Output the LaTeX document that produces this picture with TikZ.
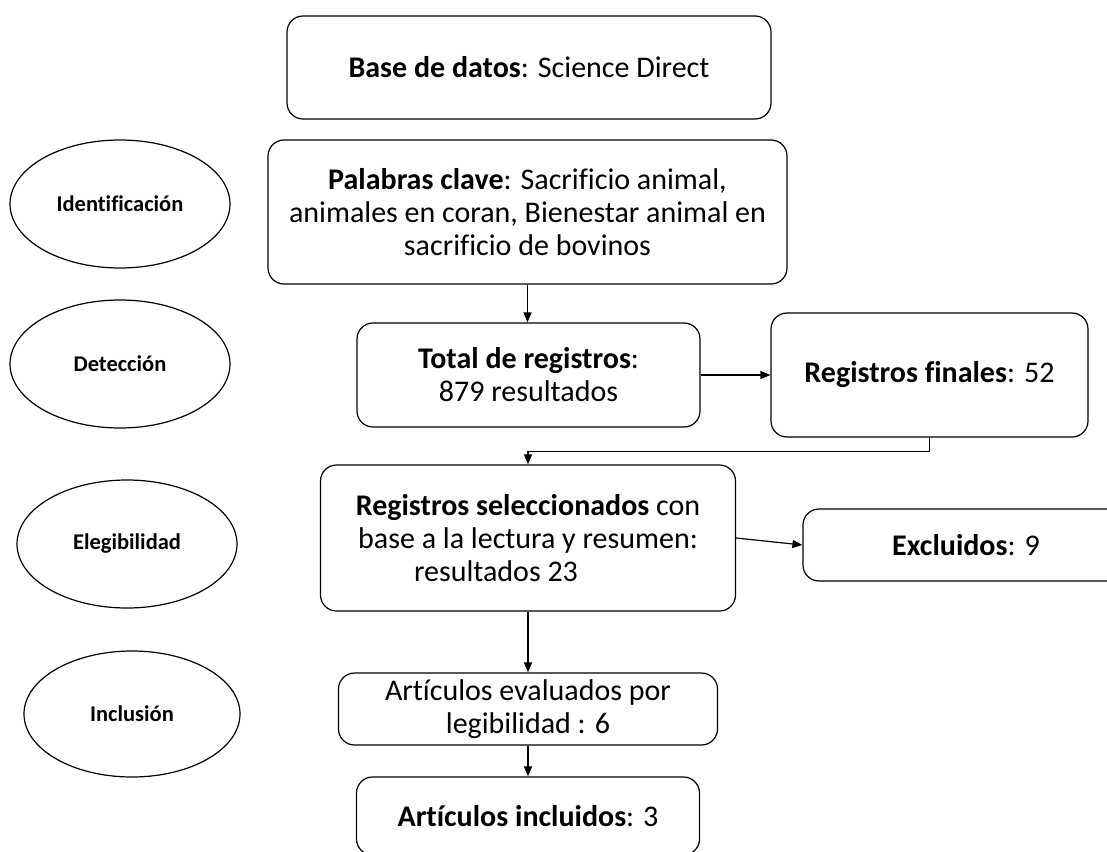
\documentclass[tikz,border=0pt]{standalone}
\usepackage{fontspec}
\setmainfont{Carlito}[Ligatures=NoCommon]
\usetikzlibrary{shapes.geometric,arrows.meta}

\tikzset{
  caja/.style={draw, line width=1.2pt, rounded corners=16pt, align=center,
    inner sep=0pt, font=\fontsize{30}{33}\selectfont},
  fase/.style={draw, ellipse, line width=1.2pt, inner sep=0pt,
    minimum width=220pt, minimum height=128pt,
    font=\fontsize{22.5}{26}\selectfont\bfseries},
  flecha/.style={line width=1.2pt, -{Triangle[length=10pt,width=8pt]}}
}

\begin{document}
\begin{tikzpicture}[x=1pt, y=-1pt]
  \fill[white] (0, 0) rectangle (1107, 851);
  \clip (0, 0) rectangle (1107, 851);

  \node[fase] (identificacion) at (120, 204) {Identificación};
  \node[fase] (deteccion) at (120, 364) {Detección};
  \node[fase] (elegibilidad) at (127, 544) {Elegibilidad};
  \node[fase, minimum width=216pt, minimum height=126pt] (inclusion) at (132, 714) {Inclusión};

  \node[caja, minimum width=484pt, minimum height=103pt] (base) at (529, 67.5)
    {\textbf{Base de datos}: Science Direct};
  \node[caja, minimum width=519pt, minimum height=144pt] (palabras) at (527.5, 212)
    {\textbf{Palabras clave}: Sacrificio animal,\\ animales en coran, Bienestar animal en\\ sacrificio de bovinos};
  \node[caja, minimum width=343pt, minimum height=104pt] (total) at (528.5, 375)
    {\textbf{Total de registros}:\\ 879 resultados};
  \node[caja, minimum width=317pt, minimum height=124pt] (finales) at (929.5, 375)
    {\textbf{Registros finales}: 52};
  \node[caja, minimum width=415pt, minimum height=146pt] (seleccionados) at (528, 538)
    {\textbf{Registros seleccionados} con\\ base a la lectura y resumen:\\
     \makebox[0pt]{\hspace*{-64pt}resultados 23}};
  \node[caja, minimum width=326pt, minimum height=72pt] (excluidos) at (966, 545)
    {\textbf{Excluidos}: 9};
  \node[caja, minimum width=379pt, minimum height=72pt] (evaluados) at (528, 709)
    {Artículos evaluados por\\ legibilidad : 6};
  \node[caja, minimum width=343pt, minimum height=78pt] (incluidos) at (528, 816)
    {\textbf{Artículos incluidos}: 3};

  \draw[flecha] (palabras.south) -- (palabras.south |- total.north);
  \draw[flecha] (total.east) -- (total.east -| finales.west);
  \draw[flecha] (finales.south) -- ++(0, 14) -| (seleccionados.north);
  \draw[flecha] (seleccionados.east) -- (excluidos.west);
  \draw[flecha] (seleccionados.south) -- (evaluados.north);
  \draw[flecha] (evaluados.south) -- (incluidos.north);
\end{tikzpicture}
\end{document}
